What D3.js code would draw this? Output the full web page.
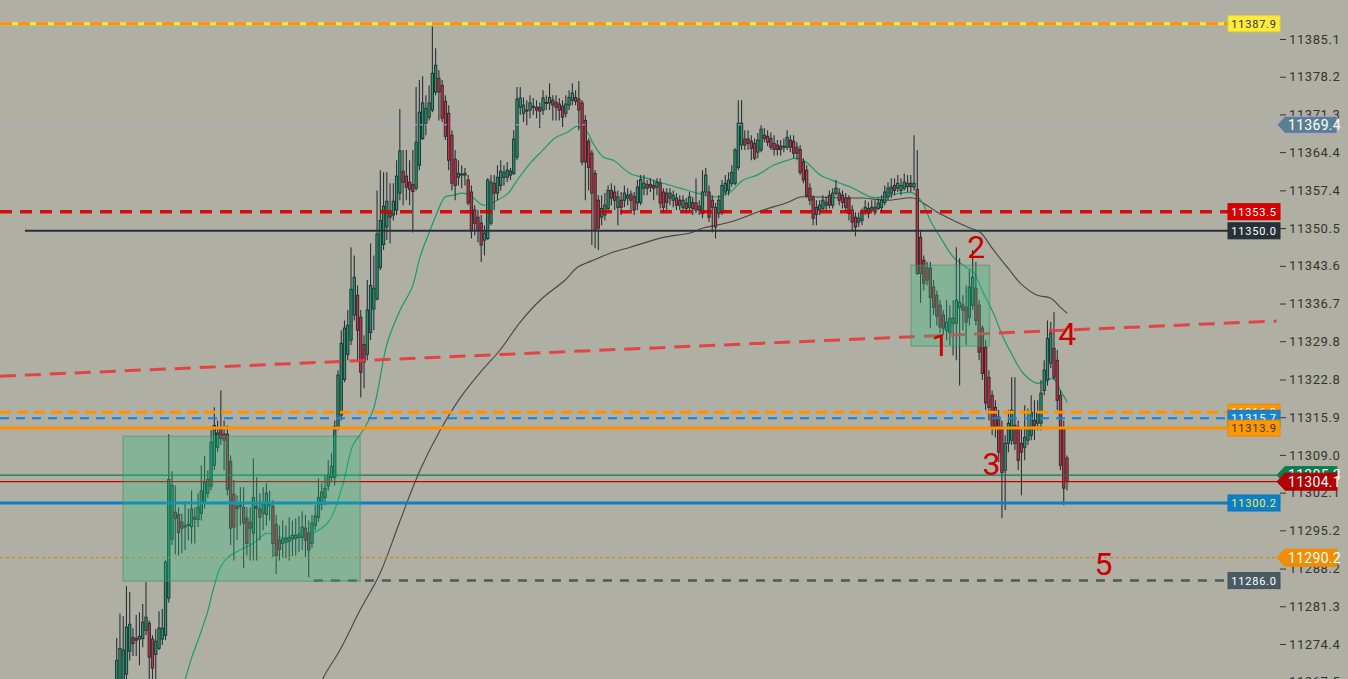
<!DOCTYPE html>
<html><head><meta charset="utf-8">
<script src="https://cdn.jsdelivr.net/npm/d3@7"></script>
<style>body{margin:0;background:#b0afa3;overflow:hidden}svg{display:block}</style>
</head><body><svg id="c" width="1348" height="679"></svg>
<script>
const opens=[
11265.9,11265.0,11265.9,11268.9,11273.1,11275.6,11275.4,11275.3,11275.4,11276.9,
11278.2,11275.3,11272.5,11273.6,11275.3,11276.0,11282.8,11293.6,11298.5,11298.1,
11296.7,11296.1,11296.1,11295.9,11297.6,11297.2,11298.3,11300.1,11302.0,11303.3,
11307.1,11310.4,11313.7,11312.8,11312.8,11307.8,11301.8,11299.6,11299.8,11299.4,
11297.4,11296.7,11294.7,11299.6,11299.1,11298.3,11298.1,11299.8,11299.6,11296.3,
11293.4,11292.8,11293.0,11293.2,11293.6,11293.7,11293.9,11293.9,11295.6,11294.7,
11292.8,11296.1,11297.6,11300.0,11301.2,11303.3,11304.9,11304.9,11314.1,11316.3,
11322.8,11327.4,11330.0,11334.6,11338.2,11334.2,11329.2,11327.4,11331.4,11335.7,
11337.5,11343.3,11347.5,11350.7,11353.2,11352.9,11353.8,11356.9,11360.9,11360.0,
11358.9,11358.5,11357.8,11362.0,11366.9,11369.7,11370.8,11372.1,11375.4,11377.9,
11376.6,11373.7,11371.5,11367.5,11363.1,11359.8,11360.2,11360.2,11359.3,11357.1,
11353.8,11352.5,11351.4,11348.3,11348.6,11351.4,11358.7,11356.9,11358.3,11359.8,
11359.8,11360.2,11360.5,11363.5,11372.6,11371.5,11371.9,11372.1,11372.6,11372.6,
11372.6,11372.1,11373.4,11373.4,11373.9,11373.5,11373.2,11372.8,11371.5,11373.0,
11373.9,11374.4,11374.1,11373.4,11370.2,11366.4,11364.2,11360.5,11355.6,11352.5,
11352.9,11354.1,11357.4,11357.1,11354.3,11355.6,11355.6,11356.0,11356.7,11356.3,
11355.1,11355.2,11357.8,11358.5,11358.5,11358.3,11358.0,11358.7,11357.1,11356.9,
11356.0,11355.6,11356.0,11355.6,11354.3,11355.1,11354.3,11355.2,11355.1,11354.5,
11353.2,11357.1,11357.1,11355.6,11354.3,11353.2,11353.4,11357.1,11357.4,11358.7,
11358.7,11361.6,11365.7,11366.8,11366.8,11366.4,11366.0,11364.4,11364.8,11367.5,
11367.3,11366.9,11366.0,11365.7,11365.5,11365.3,11365.3,11366.6,11366.4,11365.3,
11364.9,11362.6,11361.1,11357.8,11356.0,11354.3,11353.8,11354.1,11354.7,11356.5,
11354.7,11356.9,11356.9,11356.5,11356.0,11356.0,11353.8,11352.5,11351.6,11351.9,
11353.4,11353.2,11353.8,11354.3,11354.1,11354.3,11355.2,11356.2,11356.9,11358.3,
11357.8,11357.4,11357.8,11358.1,11358.7,11358.0,11357.6,11348.8,11344.6,11343.2,
11343.2,11339.7,11338.2,11336.4,11334.6,11331.8,11331.4,11333.1,11333.1,11336.0,
11336.4,11336.0,11334.2,11336.4,11339.5,11336.4,11332.2,11328.7,11323.2,11319.9,
11317.7,11315.9,11314.1,11306.2,11311.1,11311.7,11314.4,11314.1,11311.1,11310.4,
11311.7,11312.6,11315.3,11314.8,11314.8,11320.8,11322.7,11325.8,11328.5,11326.3,
11319.9,11313.9,11308.4];
const closes=[
11271.4,11273.6,11273.3,11277.5,11278.0,11274.5,11275.1,11275.8,11278.4,11279.3,
11272.0,11270.0,11274.9,11277.3,11277.3,11289.4,11304.5,11303.4,11297.4,11294.8,
11295.6,11295.8,11296.3,11299.1,11297.2,11299.4,11302.4,11304.0,11304.5,11311.3,
11314.4,11313.0,11312.0,11311.7,11302.7,11295.6,11295.8,11299.2,11299.6,11296.5,
11292.8,11295.6,11301.2,11299.2,11297.6,11300.0,11302.0,11300.1,11292.8,11290.6,
11291.7,11293.6,11293.7,11293.9,11294.3,11294.3,11294.5,11295.8,11293.4,11291.6,
11296.5,11297.8,11301.2,11302.2,11302.9,11305.3,11306.9,11314.2,11323.6,11329.4,
11332.2,11332.7,11339.3,11341.5,11331.8,11324.1,11326.0,11335.5,11340.0,11339.5,
11349.4,11351.9,11354.5,11355.4,11352.5,11355.4,11360.0,11364.6,11358.9,11358.0,
11357.6,11357.2,11366.2,11371.7,11373.4,11372.4,11373.4,11378.8,11380.3,11375.4,
11370.6,11367.3,11362.9,11358.7,11358.3,11360.5,11360.4,11360.5,11355.1,11350.1,
11351.4,11350.1,11347.4,11349.6,11359.3,11358.9,11356.9,11359.8,11360.9,11360.7,
11361.1,11360.9,11366.8,11374.1,11374.3,11373.0,11372.1,11373.4,11372.8,11372.1,
11371.9,11374.3,11373.5,11374.4,11373.0,11372.6,11372.1,11370.8,11373.2,11374.4,
11375.2,11373.7,11372.1,11362.6,11362.6,11361.6,11356.9,11350.1,11350.5,11354.1,
11354.7,11357.4,11356.0,11355.6,11356.2,11354.3,11356.9,11356.5,11355.6,11353.8,
11358.0,11359.4,11358.7,11357.8,11358.0,11357.8,11358.9,11355.1,11354.3,11355.2,
11356.9,11356.5,11354.7,11354.7,11355.6,11354.1,11356.2,11354.1,11353.8,11353.8,
11357.1,11360.2,11352.5,11354.3,11350.7,11355.6,11358.3,11358.7,11359.3,11360.7,
11364.8,11369.7,11369.7,11365.7,11366.0,11365.1,11363.3,11366.6,11368.6,11366.9,
11366.2,11365.3,11364.9,11364.9,11364.9,11365.5,11367.1,11365.3,11364.2,11364.2,
11360.7,11359.3,11356.5,11355.6,11352.3,11353.0,11354.7,11355.6,11355.2,11354.7,
11356.9,11357.8,11355.6,11355.2,11354.3,11353.2,11351.6,11350.7,11352.3,11353.2,
11354.3,11354.1,11354.3,11353.4,11355.1,11355.6,11357.1,11357.8,11358.0,11357.4,
11358.7,11358.3,11358.9,11358.7,11358.1,11358.7,11342.2,11342.2,11340.4,11341.0,
11337.8,11336.0,11334.4,11332.4,11332.2,11333.3,11334.0,11334.0,11337.3,11336.9,
11335.5,11333.3,11339.7,11341.5,11333.6,11327.8,11323.9,11318.5,11317.7,11314.1,
11314.1,11309.5,11305.8,11311.1,11314.8,11317.2,11311.1,11308.0,11309.5,11312.2,
11314.1,11316.8,11314.4,11316.6,11320.3,11324.5,11330.3,11331.3,11323.2,11319.0,
11307.1,11302.9,11304.1];
const highs=[
11275.5,11280.0,11279.5,11285.0,11283.9,11277.3,11279.7,11280.2,11281.7,11285.7,
11278.7,11276.0,11277.1,11280.4,11280.8,11289.7,11312.8,11306.0,11303.4,11299.4,
11298.3,11300.5,11299.2,11302.5,11299.4,11302.0,11307.1,11308.8,11306.2,11313.5,
11317.7,11315.3,11320.8,11315.3,11314.4,11308.9,11304.4,11301.6,11303.1,11303.1,
11299.4,11299.4,11308.4,11304.9,11302.0,11303.1,11303.8,11302.5,11300.7,11298.0,
11296.1,11297.0,11296.1,11297.6,11297.0,11297.4,11297.8,11298.7,11298.0,11297.0,
11298.0,11299.8,11304.7,11303.8,11305.3,11308.0,11309.3,11315.3,11324.5,11331.8,
11333.6,11335.5,11347.0,11345.5,11340.0,11335.5,11330.9,11341.0,11347.7,11345.5,
11357.4,11361.1,11360.7,11360.7,11358.7,11358.7,11362.9,11372.3,11364.8,11364.8,
11362.9,11364.8,11376.3,11377.6,11378.3,11374.8,11376.6,11387.4,11383.4,11379.4,
11377.6,11374.8,11373.0,11368.4,11364.8,11362.9,11362.0,11361.5,11360.2,11358.3,
11354.7,11353.8,11352.9,11351.0,11359.6,11360.2,11360.2,11362.0,11362.9,11362.0,
11362.6,11361.5,11368.4,11376.3,11376.3,11374.4,11373.9,11374.8,11374.3,11373.9,
11373.5,11375.7,11374.8,11377.0,11374.8,11374.8,11374.3,11373.9,11374.8,11375.7,
11377.0,11375.7,11377.4,11373.9,11371.2,11366.9,11364.8,11361.1,11356.5,11356.5,
11356.9,11358.3,11358.7,11358.3,11357.4,11357.1,11358.3,11357.8,11357.4,11357.1,
11359.3,11360.2,11360.2,11359.3,11359.6,11359.3,11359.6,11359.6,11357.8,11357.8,
11357.8,11357.4,11356.9,11356.5,11356.5,11356.0,11357.1,11356.2,11359.6,11355.6,
11361.1,11361.5,11358.3,11356.5,11355.1,11356.5,11359.3,11360.2,11360.7,11362.0,
11365.1,11373.9,11373.9,11368.4,11368.4,11367.5,11366.9,11367.9,11369.3,11368.8,
11368.4,11368.0,11367.5,11366.6,11366.6,11366.9,11368.4,11367.5,11367.5,11366.2,
11365.7,11363.3,11362.0,11358.7,11356.5,11355.6,11355.6,11356.5,11356.3,11357.4,
11357.8,11359.3,11357.8,11357.4,11356.9,11356.5,11354.7,11353.4,11353.4,11354.1,
11355.6,11355.2,11355.6,11355.6,11356.0,11356.5,11358.3,11358.9,11359.6,11359.6,
11360.2,11359.6,11360.5,11360.2,11360.2,11367.5,11364.8,11350.1,11345.5,11344.3,
11344.3,11341.0,11339.1,11337.3,11335.5,11337.3,11336.4,11337.3,11347.0,11345.0,
11338.2,11340.0,11342.8,11346.5,11344.3,11337.3,11332.7,11330.0,11324.5,11320.8,
11319.0,11317.2,11315.3,11312.6,11317.2,11323.2,11323.2,11315.3,11313.9,11318.1,
11317.5,11319.9,11319.0,11319.0,11322.7,11326.3,11333.6,11333.3,11335.1,11328.2,
11320.8,11315.3,11308.9];
const lows=[
11264.1,11264.1,11264.1,11265.9,11271.4,11272.2,11272.2,11270.5,11273.8,11276.0,
11267.9,11265.9,11267.9,11273.3,11274.2,11275.1,11282.0,11292.5,11290.8,11290.6,
11291.0,11291.6,11293.4,11292.8,11292.8,11295.8,11297.0,11299.2,11301.1,11302.5,
11306.2,11309.5,11310.8,11306.2,11301.6,11292.5,11289.7,11293.4,11296.1,11288.3,
11290.6,11289.7,11289.7,11289.7,11293.4,11295.2,11296.1,11297.0,11290.3,11287.2,
11289.7,11290.1,11290.1,11289.7,11290.5,11290.6,11291.2,11291.6,11290.3,11286.6,
11291.9,11295.2,11296.7,11298.9,11299.8,11302.5,11304.0,11303.4,11313.5,11315.3,
11322.3,11326.3,11329.1,11333.6,11326.3,11319.5,11321.2,11326.3,11330.0,11331.8,
11337.3,11342.8,11346.5,11348.3,11347.7,11351.9,11352.9,11355.6,11354.7,11355.6,
11354.7,11349.7,11357.4,11361.1,11366.6,11367.5,11370.2,11371.7,11374.8,11370.2,
11369.9,11366.6,11361.1,11357.4,11355.6,11358.3,11357.8,11358.3,11354.7,11348.6,
11349.2,11347.9,11344.3,11345.5,11348.3,11351.0,11353.8,11355.6,11357.4,11358.3,
11358.9,11359.3,11360.2,11362.9,11371.2,11369.9,11369.3,11370.6,11371.2,11370.6,
11368.8,11371.2,11372.1,11372.1,11370.2,11370.2,11370.2,11369.0,11370.8,11372.1,
11373.0,11373.0,11368.4,11362.0,11355.6,11357.4,11347.4,11346.8,11346.5,11351.0,
11351.9,11353.4,11354.7,11353.8,11351.0,11352.9,11354.3,11354.7,11353.8,11352.9,
11353.8,11354.7,11356.5,11356.5,11357.1,11355.6,11356.5,11354.1,11353.4,11353.8,
11354.7,11354.3,11353.8,11353.8,11353.4,11353.2,11353.8,11352.9,11353.2,11352.9,
11352.3,11356.5,11351.6,11349.7,11348.6,11352.3,11352.9,11356.5,11356.5,11358.1,
11358.3,11361.1,11364.8,11364.8,11364.8,11362.9,11362.9,11363.3,11364.4,11366.2,
11365.5,11364.8,11363.8,11363.8,11363.8,11364.4,11364.8,11364.4,11363.3,11362.9,
11360.2,11358.7,11356.0,11354.7,11351.0,11351.0,11352.9,11353.8,11353.8,11354.1,
11354.1,11356.5,11354.7,11354.1,11353.4,11351.9,11350.1,11349.0,11350.7,11351.0,
11352.9,11352.3,11353.4,11352.9,11353.8,11353.4,11354.7,11355.6,11356.0,11356.5,
11357.1,11356.5,11357.4,11357.1,11357.1,11357.4,11341.9,11336.8,11339.1,11340.0,
11332.2,11334.6,11332.7,11331.3,11330.9,11330.0,11329.1,11327.2,11326.3,11321.7,
11331.8,11329.1,11332.7,11335.5,11332.7,11326.3,11322.7,11317.2,11315.3,11312.6,
11312.2,11307.7,11297.4,11298.9,11309.5,11310.8,11309.9,11306.2,11301.6,11308.0,
11310.8,11311.7,11311.7,11313.5,11313.5,11319.9,11321.7,11324.9,11322.7,11317.2,
11306.2,11299.8,11302.5];

// fast moving average (green), read at bar positions
const emaIdx=[21.0,23.1,25.0,27.8,29.6,31.8,34.2,37.9,41.9,46.2,50.2,56.4,60.3,64.7,66.5,69.6,72.6,75.7,78.8,83.1,87.1,90.8,93.2,96.3,98.5,100.9,103.4,106.1,108.6,112.6,116.9,120.3,123.1,127.1,131.0,134.7,138.4,141.5,144.6,146.4,149.5,152.6,157.8,163.0,167.9,173.2,178.4,184.5,188.5,192.5,196.8,201.8,206.1,209.4,212.2,216.2,221.4,226.3,231.6,235.6,240.8,244.8,247.6,250.0,253.1,257.1,261.4,263.3,266.3,269.4,272.4,275.5,278.6,282.9,286.0,287.8,290.0,292.1];
const emaVal=[11267.9,11272.0,11275.1,11280.0,11284.2,11288.4,11290.3,11291.6,11292.8,11294.7,11293.9,11294.1,11294.7,11296.5,11298.3,11303.8,11310.8,11313.5,11317.2,11329.4,11335.5,11339.7,11345.2,11350.1,11353.4,11356.2,11356.5,11356.9,11356.5,11354.7,11355.6,11356.9,11359.3,11362.4,11364.8,11367.0,11368.0,11369.1,11368.0,11366.0,11363.5,11362.9,11360.5,11359.6,11358.7,11357.8,11356.9,11356.2,11357.1,11359.3,11360.2,11362.0,11362.9,11363.3,11362.4,11360.2,11358.9,11357.8,11356.2,11356.2,11356.9,11356.9,11355.1,11351.9,11348.8,11345.2,11343.2,11342.4,11338.6,11334.9,11330.5,11326.9,11323.9,11322.1,11322.7,11323.0,11320.8,11318.6];
// slow moving average (dark)
const smaIdx=[61.5,63.2,68.6,74.8,80.9,87.1,93.2,99.4,105.5,111.7,117.8,124.0,130.1,137.8,141.5,146.4,151.6,157.8,168.0,176.2,180.2,188.5,198.7,206.1,210.1,216.2,222.4,229.4,236.8,244.8,247.8,252.2,257.1,262.3,265.4,269.4,273.7,277.7,282.9,286.9,290.0,292.1];
const smaVal=[11264.5,11267.9,11273.3,11280.6,11287.3,11297.0,11306.2,11313.5,11319.4,11324.1,11328.2,11333.3,11337.3,11341.0,11343.3,11344.6,11345.9,11347.0,11348.8,11349.6,11350.5,11351.6,11353.8,11355.2,11356.2,11356.2,11356.0,11356.0,11355.6,11356.0,11355.1,11353.4,11351.9,11350.5,11349.7,11346.5,11343.3,11340.4,11338.2,11337.7,11336.0,11334.9];

const tickValues=[11267.5,11274.4,11281.3,11288.2,11295.2,11302.1,11309.0,11315.9,11322.8,11329.8,11336.7,11343.6,11350.5,11357.4,11364.4,11371.3,11378.2,11385.1];
const boxLevels=[11387.9,11353.5,11350.0,11316.8,11315.7,11313.9,11300.2,11286.0];
const arrowLevels=[11369.4,11290.2,11305.3,11304.1];
const trendLine=[[-35.9,11323.4],[356.4,11333.5]];
const zones=[[1.97,74.8,11312.4,11285.9],[244.1,268.2,11343.7,11328.9]];
const marks=["1","2","3","4","5"];
const markIdx=[253.1,264.1,268.8,292.1,303.2];
const markVal=[11327.1,11345.0,11305.3,11329.1,11287.0];

const W=1348,H=679;
const svg=d3.select("#c");
const x=d3.scaleLinear().domain([0,closes.length-1]).range([116.7,1067]);
const y=d3.scaleLinear().domain([11274.4,11385.1]).range([644,39]);
const bg="#b0afa3";
svg.append("rect").attr("width",W).attr("height",H).attr("fill",bg);

const GREEN="#1f9e6b",RED="#e0283c",OUT="#263238";
const candles=d3.range(closes.length).map(i=>({i,o:opens[i],h:highs[i],l:lows[i],c:closes[i]}));

// moving averages
const lineGen=d3.line().curve(d3.curveCatmullRom.alpha(0.5));
svg.append("path").attr("d",lineGen(smaIdx.map((d,k)=>[x(d),y(smaVal[k])])))
  .attr("fill","none").attr("stroke","#2f3436").attr("stroke-width",1.1).attr("opacity",0.85);
svg.append("path").attr("d",lineGen(emaIdx.map((d,k)=>[x(d),y(emaVal[k])])))
  .attr("fill","none").attr("stroke","#1a9a6c").attr("stroke-width",1.2);

const cg=svg.append("g");
cg.selectAll("line.w").data(candles).join("line")
  .attr("x1",d=>x(d.i)).attr("x2",d=>x(d.i)).attr("y1",d=>y(d.h)).attr("y2",d=>y(d.l))
  .attr("stroke",OUT).attr("stroke-width",1.1);
const bw=2.3;
cg.selectAll("rect").data(candles).join("rect")
  .attr("x",d=>x(d.i)-bw/2).attr("width",bw)
  .attr("y",d=>y(Math.max(d.o,d.c)))
  .attr("height",d=>Math.max(1,Math.abs(y(d.o)-y(d.c))))
  .attr("fill",d=>d.c>=d.o?GREEN:RED).attr("stroke",OUT).attr("stroke-width",1);

// horizontal levels
const BOXX=1228, ARRX=1277;
function hline(v,x0,x1,color,w,dash,op){
  svg.append("line").attr("x1",x0).attr("x2",x1).attr("y1",y(v)).attr("y2",y(v))
   .attr("stroke",color).attr("stroke-width",w).attr("stroke-dasharray",dash||null).attr("opacity",op||1);
}
hline(boxLevels[0],0,BOXX,"#ffe83a",3);
hline(boxLevels[0],0,BOXX,"#ff8f00",3,"12,6");
hline(arrowLevels[0],0,ARRX,"#b7a3e6",1,"3,3");
hline(boxLevels[1],0,BOXX,"#d00000",3.5,"12,8",0.9);
hline(boxLevels[2],x(-28.2),BOXX,"#263238",2);
hline(boxLevels[3],0,BOXX,"#ff9000",3,"11,6");
hline(boxLevels[4],0,BOXX,"#1683d6",2,"9,7");
hline(boxLevels[5],0,BOXX,"#ff9000",3);
hline(arrowLevels[2],0,ARRX,"#10794c",1.2);
hline(arrowLevels[3],0,ARRX,"#c40000",1.2);
hline(boxLevels[6],0,BOXX,"#0b80c8",3);
hline(arrowLevels[1],0,ARRX,"#e07a00",1,"3,3");
hline(boxLevels[7],x(60.6),BOXX,"#4b5a62",2.5,"9,8");

// sloped trend line
svg.append("line").attr("x1",x(trendLine[0][0])).attr("y1",y(trendLine[0][1]))
  .attr("x2",x(trendLine[1][0])).attr("y2",y(trendLine[1][1]))
  .attr("stroke","#e8383d").attr("stroke-width",3).attr("stroke-dasharray","16,9").attr("opacity",0.9);

// zones
zones.forEach(z=>{
  svg.append("rect").attr("x",x(z[0])).attr("y",y(z[2])).attr("width",x(z[1])-x(z[0])).attr("height",y(z[3])-y(z[2]))
   .attr("fill","rgba(40,190,130,0.31)").attr("stroke","rgba(70,140,105,0.45)").attr("stroke-width",1.5);
});

// number annotations
svg.selectAll("text.mk").data(marks).join("text").attr("class","mk")
  .attr("x",(d,k)=>x(markIdx[k])).attr("y",(d,k)=>y(markVal[k]))
  .attr("text-anchor","middle").attr("font-family","Roboto, 'Liberation Sans', sans-serif")
  .attr("font-size",32).attr("fill","#cc0000").text(d=>d);

// right axis
const axis=d3.axisRight(y).tickValues(tickValues).tickFormat(d=>d.toFixed(1)).tickSize(6).tickPadding(3);
const ag=svg.append("g").attr("transform","translate(1280,0)").call(axis);
ag.select(".domain").remove();
ag.selectAll("line").attr("stroke","#333");
ag.selectAll("text").attr("fill","#333").attr("font-family","Roboto, sans-serif").attr("font-size",13).attr("letter-spacing","0.6px");

// box labels
const boxStyle=[["#ffeb3b","#333"],["#d50000","#fff"],["#263238","#fff"],["#ff9800","#fff"],["#1683d6","#fff"],["#ff9800","#333"],["#0b80c8","#ffeb3b"],["#4b5a62","#fff"]];
boxLevels.forEach((v,k)=>{
  const g=svg.append("g").attr("transform",`translate(${BOXX},${y(v)})`);
  g.append("rect").attr("x",0).attr("y",-8).attr("width",52).attr("height",16).attr("fill",boxStyle[k][0])
    .attr("stroke",d3.color(boxStyle[k][0]).darker(0.3)).attr("stroke-width",1);
  g.append("text").attr("x",26).attr("y",4).attr("text-anchor","middle").attr("fill",boxStyle[k][1])
    .attr("font-family","Roboto, sans-serif").attr("font-size",11).attr("letter-spacing","0.8px").text(v.toFixed(1));
});
// arrow labels
const arrowStyle=[["#5a7f92","#b39ddb"],["#f28c00","#f28c00"],["#0b7d4f","#0b7d4f"],["#b30000","#b30000"]];
arrowLevels.forEach((v,k)=>{
  const g=svg.append("g").attr("transform",`translate(${ARRX},${y(v)})`);
  g.append("path").attr("d","M0,0 L8,-8.5 L60,-8.5 L60,8.5 L8,8.5 Z").attr("fill",arrowStyle[k][0]).attr("stroke",arrowStyle[k][1]).attr("stroke-width",1);
  g.append("text").attr("x",11).attr("y",5).attr("fill","#fff")
    .attr("font-family","Roboto, sans-serif").attr("font-size",14).attr("letter-spacing","0.3px").text(v.toFixed(1));
});
</script></body></html>
